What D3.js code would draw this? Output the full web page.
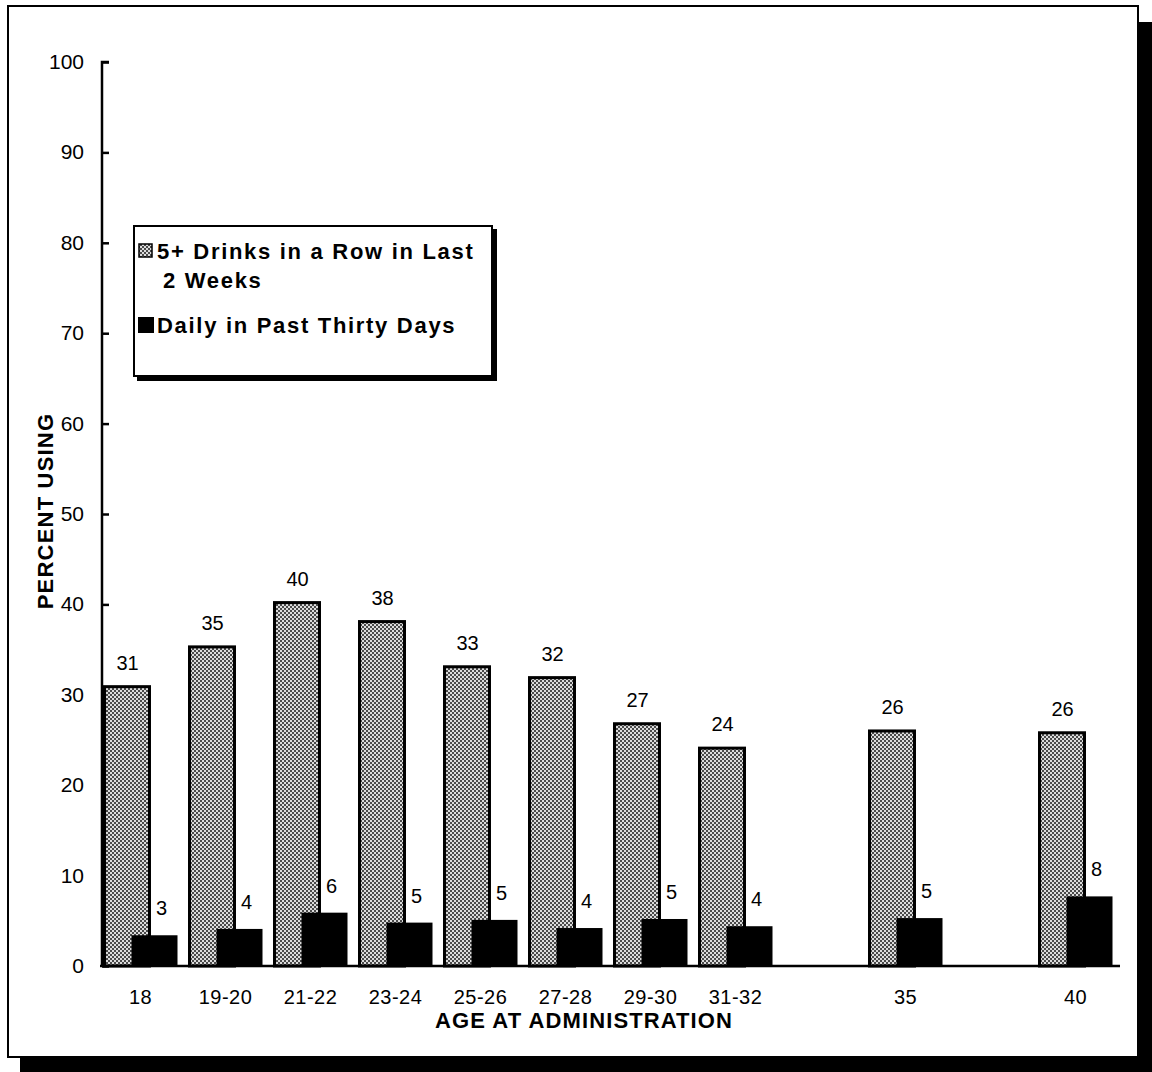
<!DOCTYPE html>
<html lang="en">
  <head>
    <meta charset="UTF-8" />
    <title>Alcohol use by age</title>
    <script src="https://d3js.org/d3.v7.min.js"></script>
    <style>
      body {
        margin: 0;
        background: #fff;
      }
      svg text {
        font-family: 'Liberation Sans', Arial, sans-serif;
        fill: #000;
      }
      .axis path,
      .axis line {
        stroke: #000;
        stroke-width: 2.5;
      }
    </style>
  </head>
  <body>
    <div id="chart-container"></div>

    <script>
      // categories (gap1 / gap2 are the empty slots before 35 and 40)
      const categories = [
        '18', '19-20', '21-22', '23-24', '25-26', '27-28',
        '29-30', '31-32', 'gap1', '35', 'gap2', '40',
      ];
      const ages = [
        '18', '19-20', '21-22', '23-24', '25-26', '27-28',
        '29-30', '31-32', '35', '40',
      ];
      // 5+ drinks in a row in last 2 weeks
      const bingeValues = [30.9, 35.3, 40.2, 38.1, 33.1, 31.9, 26.8, 24.1, 26.0, 25.8];
      // daily in past thirty days
      const dailyValues = [3.4, 4.1, 5.9, 4.8, 5.1, 4.2, 5.2, 4.4, 5.3, 7.7];
      const yTicks = [0, 10, 20, 30, 40, 50, 60, 70, 80, 90, 100];
      const seriesNames = ['5+ Drinks in a Row in Last', 'Daily in Past Thirty Days'];

      const svgWidth = 1152;
      const svgHeight = 1072;

      const svg = d3
        .select('#chart-container')
        .append('svg')
        .attr('width', svgWidth)
        .attr('height', svgHeight);

      // dithered grey fill
      const defs = svg.append('defs');
      const pat = defs
        .append('pattern')
        .attr('id', 'dots')
        .attr('patternUnits', 'userSpaceOnUse')
        .attr('width', 4)
        .attr('height', 4);
      pat.append('rect').attr('width', 4).attr('height', 4).attr('fill', '#dcdcdc');
      pat.append('rect').attr('x', 0).attr('y', 0).attr('width', 2).attr('height', 2).attr('fill', '#4a4a4a');
      pat.append('rect').attr('x', 2).attr('y', 2).attr('width', 2).attr('height', 2).attr('fill', '#4a4a4a');

      // outer frame with drop shadow
      svg.append('rect').attr('x', 20).attr('y', 22).attr('width', 1132).attr('height', 1050).attr('fill', '#000');
      svg
        .append('rect')
        .attr('x', 8)
        .attr('y', 6)
        .attr('width', 1130)
        .attr('height', 1051)
        .attr('fill', '#fff')
        .attr('stroke', '#000')
        .attr('stroke-width', 2);

      const x = d3.scaleBand().domain(categories).range([98, 1118]).padding(0);
      const y = d3.scaleLinear().domain([0, 100]).range([966, 62]);

      const data = ages.map((a, i) => ({
        age: a,
        binge: bingeValues[i],
        daily: dailyValues[i],
      }));

      const cx = (d) => x(d.age) + x.bandwidth() / 2;
      const barW = 45;

      // y axis (inside ticks)
      svg
        .append('g')
        .attr('class', 'axis')
        .attr('transform', 'translate(102,0)')
        .call(d3.axisRight(y).tickValues(yTicks).tickSize(7).tickFormat(''))
        .select('.domain')
        .attr('d', `M7,${y(100)}H0V${y(0)}`);

      svg
        .append('g')
        .selectAll('text')
        .data(yTicks)
        .enter()
        .append('text')
        .attr('x', 84)
        .attr('y', (d) => y(d) + 7)
        .attr('text-anchor', 'end')
        .style('font-size', '21px')
        .text((d) => d);

      // grey bars
      svg
        .selectAll('.binge')
        .data(data)
        .enter()
        .append('rect')
        .attr('class', 'binge')
        .attr('x', (d) => cx(d) - 36)
        .attr('y', (d) => y(d.binge))
        .attr('width', barW)
        .attr('height', (d) => y(0) - y(d.binge))
        .attr('fill', 'url(#dots)')
        .attr('stroke', '#000')
        .attr('stroke-width', 3);

      // black bars
      svg
        .selectAll('.daily')
        .data(data)
        .enter()
        .append('rect')
        .attr('class', 'daily')
        .attr('x', (d) => cx(d) - 9)
        .attr('y', (d) => y(d.daily))
        .attr('width', barW + 1)
        .attr('height', (d) => y(0) - y(d.daily))
        .attr('fill', '#000');

      // value labels
      svg
        .selectAll('.lab-binge')
        .data(data)
        .enter()
        .append('text')
        .attr('x', (d) => cx(d) - 13)
        .attr('y', (d) => y(d.binge) - 17)
        .attr('text-anchor', 'middle')
        .style('font-size', '20px')
        .text((d) => d3.format('.0f')(d.binge));

      svg
        .selectAll('.lab-daily')
        .data(data)
        .enter()
        .append('text')
        .attr('x', (d) => cx(d) + 21)
        .attr('y', (d) => y(d.daily) - 20)
        .attr('text-anchor', 'middle')
        .style('font-size', '20px')
        .text((d) => d3.format('.0f')(d.daily));

      // x axis
      const xAxis = svg
        .append('g')
        .attr('class', 'axis')
        .attr('transform', `translate(0,${y(0)})`)
        .call(
          d3
            .axisBottom(x)
            .tickSize(0)
            .tickPadding(24)
            .tickFormat((d) => (d.startsWith('gap') ? '' : d)),
        );
      xAxis.select('.domain').attr('d', 'M100,0H1120');
      xAxis
        .selectAll('text')
        .attr('font-family', null)
        .attr('font-size', null)
        .style('font-size', '20px')
        .style('letter-spacing', '0.5px');

      // axis titles
      svg
        .append('text')
        .attr('x', 584)
        .attr('y', 1028)
        .attr('text-anchor', 'middle')
        .style('font-size', '22px')
        .style('font-weight', 'bold')
        .style('letter-spacing', '1.1px')
        .text('AGE AT ADMINISTRATION');

      svg
        .append('text')
        .attr('transform', 'translate(53,511) rotate(-90)')
        .attr('text-anchor', 'middle')
        .style('font-size', '22px')
        .style('font-weight', 'bold')
        .style('letter-spacing', '1.2px')
        .text('PERCENT USING');

      // legend
      const lg = svg.append('g');
      lg.append('rect').attr('x', 137).attr('y', 229).attr('width', 360).attr('height', 152).attr('fill', '#000');
      lg
        .append('rect')
        .attr('x', 134)
        .attr('y', 226)
        .attr('width', 358)
        .attr('height', 150)
        .attr('fill', '#fff')
        .attr('stroke', '#000')
        .attr('stroke-width', 2);
      lg
        .append('rect')
        .attr('x', 139)
        .attr('y', 244)
        .attr('width', 13)
        .attr('height', 13)
        .attr('fill', 'url(#dots)')
        .attr('stroke', '#000')
        .attr('stroke-width', 1.5);
      lg.append('rect').attr('x', 138).attr('y', 317).attr('width', 16).attr('height', 16).attr('fill', '#000');

      const legendText = lg
        .append('g')
        .style('font-size', '22px')
        .style('font-weight', 'bold')
        .style('letter-spacing', '1.7px');
      legendText.append('text').attr('x', 157).attr('y', 259).text(seriesNames[0]);
      legendText.append('text').attr('x', 163).attr('y', 288).text('2 Weeks');
      legendText.append('text').attr('x', 157).attr('y', 333).text(seriesNames[1]);
    </script>
  </body>
</html>
